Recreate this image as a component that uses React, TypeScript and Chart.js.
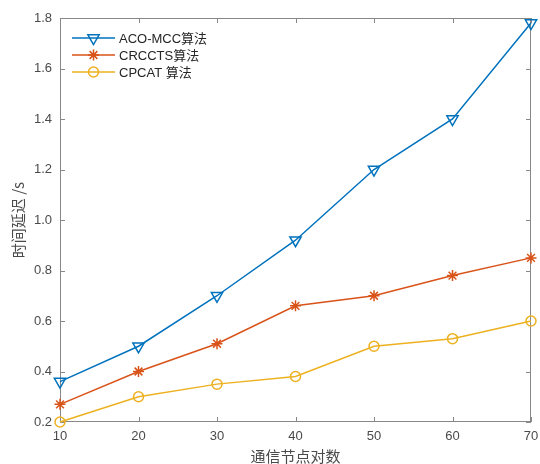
import { useEffect, useRef } from 'react';
import { Chart, registerables } from 'chart.js';
Chart.register(...registerables);

const categories = [10, 20, 30, 40, 50, 60, 70];
const acoMcc = [0.36, 0.5, 0.7, 0.92, 1.2, 1.4, 1.78];
const crccts = [0.27, 0.4, 0.51, 0.66, 0.7, 0.78, 0.85];
const cpcat = [0.2, 0.3, 0.35, 0.38, 0.5, 0.53, 0.6];
const seriesNames = ['ACO-MCC算法', 'CRCCTS算法', 'CPCAT 算法'];
const colors = ['#0072BD', '#D95319', '#EDB120'];
const yTicks = [0.2, 0.4, 0.6, 0.8, 1.0, 1.2, 1.4, 1.6, 1.8];
const xTitle = '通信节点对数';
const yTitle = '时间延迟 /s';

const FONT = '"Liberation Sans", Arial, "Noto Sans CJK SC", sans-serif';
const CJK = '"Noto Sans CJK SC", sans-serif';
const AXIS = '#888888';
const TEXT = '#4a4a4a';

function drawMarker(ctx: CanvasRenderingContext2D, kind: number, x: number, y: number, color: string) {
  ctx.save();
  ctx.strokeStyle = color;
  ctx.lineWidth = 1.5;
  ctx.beginPath();
  if (kind === 0) {
    const r = 6.5;
    for (let i = 0; i < 3; i++) {
      const a = Math.PI + (i * 2 * Math.PI) / 3;
      const px = x + Math.sin(a) * r;
      const py = y - Math.cos(a) * r;
      if (i === 0) ctx.moveTo(px, py);
      else ctx.lineTo(px, py);
    }
    ctx.closePath();
  } else if (kind === 1) {
    const r = 5.5;
    for (let i = 0; i < 4; i++) {
      const a = (i * Math.PI) / 4;
      ctx.moveTo(x - Math.cos(a) * r, y - Math.sin(a) * r);
      ctx.lineTo(x + Math.cos(a) * r, y + Math.sin(a) * r);
    }
  } else {
    ctx.arc(x, y, 5, 0, Math.PI * 2);
  }
  ctx.stroke();
  ctx.restore();
}

const framePlugin = {
  id: 'frame',
  beforeDatasetsDraw(chart: any) {
    const ctx: CanvasRenderingContext2D = chart.ctx;
    const { left, right, top, bottom } = chart.chartArea;
    const xs = chart.scales.x;
    const ys = chart.scales.y;
    ctx.save();
    ctx.strokeStyle = AXIS;
    ctx.lineWidth = 1;
    ctx.strokeRect(left + 0.5, top + 0.5, right - left - 1, bottom - top - 1);
    const tl = 5;
    ctx.beginPath();
    categories.forEach((_, i) => {
      const px = Math.round(xs.getPixelForValue(i)) + 0.5;
      ctx.moveTo(px, bottom);
      ctx.lineTo(px, bottom - tl);
      ctx.moveTo(px, top);
      ctx.lineTo(px, top + tl);
    });
    yTicks.forEach((v) => {
      const py = Math.round(ys.getPixelForValue(v)) + 0.5;
      ctx.moveTo(left, py);
      ctx.lineTo(left + tl, py);
      ctx.moveTo(right, py);
      ctx.lineTo(right - tl, py);
    });
    ctx.stroke();
    ctx.restore();
  },
  afterDraw(chart: any) {
    const ctx: CanvasRenderingContext2D = chart.ctx;
    const { left, right, top, bottom } = chart.chartArea;
    ctx.save();
    // titles
    ctx.fillStyle = TEXT;
    ctx.font = `15px ${CJK}`;
    ctx.textAlign = 'center';
    ctx.textBaseline = 'middle';
    ctx.fillText(xTitle, (left + right) / 2, 456);
    ctx.save();
    ctx.translate(18, (top + bottom) / 2);
    ctx.rotate(-Math.PI / 2);
    ctx.fillText(yTitle, 0, 0);
    ctx.restore();

    // legend
    const ly = [38, 55, 72];
    ctx.font = `13px ${FONT}`;
    ctx.textAlign = 'left';
    ctx.textBaseline = 'middle';
    for (let i = 0; i < 3; i++) {
      ctx.strokeStyle = colors[i];
      ctx.lineWidth = 1.5;
      ctx.beginPath();
      ctx.moveTo(72, ly[i]);
      ctx.lineTo(115, ly[i]);
      ctx.stroke();
      drawMarker(ctx, i, 93.5, ly[i], colors[i]);
      ctx.fillStyle = '#262626';
      ctx.fillText(seriesNames[i], 119, ly[i] + 1);
    }
    ctx.restore();
  },
};

export default function App() {
  const ref = useRef<HTMLCanvasElement>(null);
  useEffect(() => {
    document.body.style.margin = '0';
    const ds = (label: string, data: number[], i: number, style: any, radius: number, rot = 0) => ({
      label,
      data,
      borderColor: colors[i],
      backgroundColor: 'transparent',
      pointBorderColor: colors[i],
      pointBackgroundColor: 'transparent',
      borderWidth: 1.5,
      pointBorderWidth: 1.5,
      pointStyle: style,
      pointRadius: radius,
      pointRotation: rot,
      tension: 0,
      clip: false as any,
    });
    const chart = new Chart(ref.current!, {
      type: 'line',
      data: {
        labels: categories.map(String),
        datasets: [
          ds(seriesNames[0], acoMcc, 0, 'triangle', 6.5, 180),
          ds(seriesNames[1], crccts, 1, 'star', 5.5),
          ds(seriesNames[2], cpcat, 2, 'circle', 5),
        ],
      },
      plugins: [framePlugin],
      options: {
        responsive: false,
        animation: false,
        layout: { padding: { top: 18, right: 9, left: 0, bottom: 0 } },
        plugins: { legend: { display: false }, tooltip: { enabled: false } },
        scales: {
          x: {
            type: 'category',
            offset: false,
            grid: { display: false, drawTicks: false },
            border: { display: false },
            ticks: { color: TEXT, font: { family: FONT, size: 13 }, padding: 7, maxRotation: 0 },
            afterFit: (s: any) => { s.height = 42; s.paddingLeft = 0; s.paddingRight = 0; },
          },
          y: {
            type: 'linear',
            min: 0.2,
            max: 1.8,
            grid: { display: false, drawTicks: false },
            border: { display: false },
            ticks: {
              stepSize: 0.2,
              color: TEXT,
              font: { family: FONT, size: 13 },
              padding: 8,
              callback: (v: any) => Number(v).toFixed(1),
            },
            afterFit: (s: any) => { s.width = 60; s.paddingTop = 0; s.paddingBottom = 0; },
          },
        },
      },
    });
    return () => chart.destroy();
  }, []);
  return <canvas ref={ref} width={540} height={464} style={{ display: 'block' }} />;
}
